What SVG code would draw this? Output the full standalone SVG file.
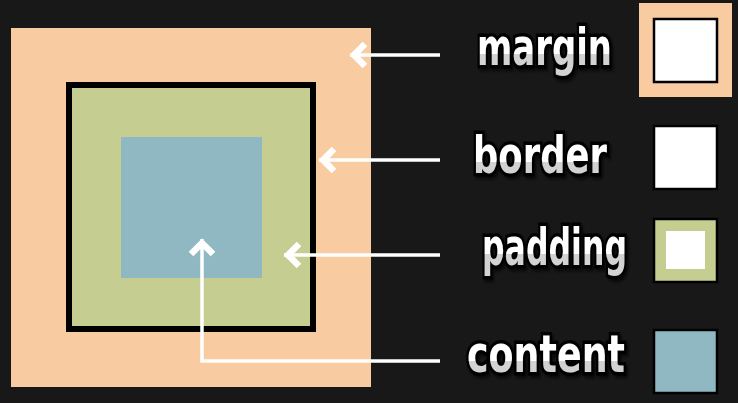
<svg xmlns="http://www.w3.org/2000/svg" width="738" height="403" viewBox="0 0 738 403">
<style>
.lbl{font-family:"DejaVu Sans","Liberation Sans",sans-serif;font-weight:bold;font-size:37px;fill:url(#tg);stroke:#000;stroke-width:5px;paint-order:stroke;stroke-linejoin:miter;filter:url(#ds)}
.conn{fill:none;stroke:#fff;stroke-width:3.5;marker-end:url(#chev)}
.key{stroke:#000;stroke-width:2.5}
</style>
<defs>
<linearGradient id="tg" gradientUnits="userSpaceOnUse" x1="0" y1="-20" x2="0" y2="0">
<stop offset="0" stop-color="#ffffff"/><stop offset="0.6" stop-color="#ffffff"/><stop offset="0.6" stop-color="#d2d2d2"/><stop offset="1" stop-color="#d2d2d2"/>
</linearGradient>
<filter id="ds" x="-10%" y="-20%" width="120%" height="150%">
<feDropShadow dx="2" dy="2" stdDeviation="1" flood-color="#000" flood-opacity="0.6"/>
</filter>
<marker id="chev" viewBox="-22 -14 24 28" refX="0" refY="0" markerWidth="24" markerHeight="28" markerUnits="userSpaceOnUse" orient="auto">
<path d="M-15,-11 L-4,0 L-15,11" fill="none" stroke="#fff" stroke-width="6.5" stroke-linejoin="miter"/>
</marker>
</defs>
<rect width="738" height="403" fill="#181818"/>
<g id="box-margin"><rect x="11" y="28" width="360" height="359" fill="#f8cba0"/></g>
<g id="box-border"><rect x="69" y="85" width="244" height="244" fill="#c5ce90" stroke="#000" stroke-width="6"/></g>
<g id="box-content"><rect x="121" y="137" width="141" height="141" fill="#8fb8c2"/></g>
<g id="connectors">
<path class="conn" d="M440,55 H350"/>
<path class="conn" d="M440,160 H319"/>
<path class="conn" d="M440,255 H284"/>
<path class="conn" d="M440,361 H202 V239"/>
</g>
<g id="label-margin">
<text class="lbl" transform="translate(477,65) scale(1,1.4)" textLength="135" lengthAdjust="spacingAndGlyphs">margin</text>
</g>
<g id="label-border">
<text class="lbl" transform="translate(473,173) scale(1,1.4)" textLength="134" lengthAdjust="spacingAndGlyphs">border</text>
</g>
<g id="label-padding">
<text class="lbl" transform="translate(482,265) scale(1,1.4)" textLength="145" lengthAdjust="spacingAndGlyphs">padding</text>
</g>
<g id="label-content">
<text class="lbl" transform="translate(467,372) scale(1,1.4)" textLength="158" lengthAdjust="spacingAndGlyphs">content</text>
</g>
<g id="key-margin">
<rect x="639" y="3" width="93" height="94" fill="#f8cba0"/>
<rect class="key" x="654" y="19" width="63" height="63" fill="#fff"/>
</g>
<g id="key-border"><rect class="key" x="654" y="126" width="63" height="63" fill="#fff"/></g>
<g id="key-padding">
<rect class="key" x="654" y="219" width="63" height="63" fill="#c5ce90"/>
<rect x="666" y="231" width="39" height="38" fill="#fff"/>
</g>
<g id="key-content"><rect class="key" x="654" y="330" width="63" height="63" fill="#8fb8c2"/></g>
</svg>
